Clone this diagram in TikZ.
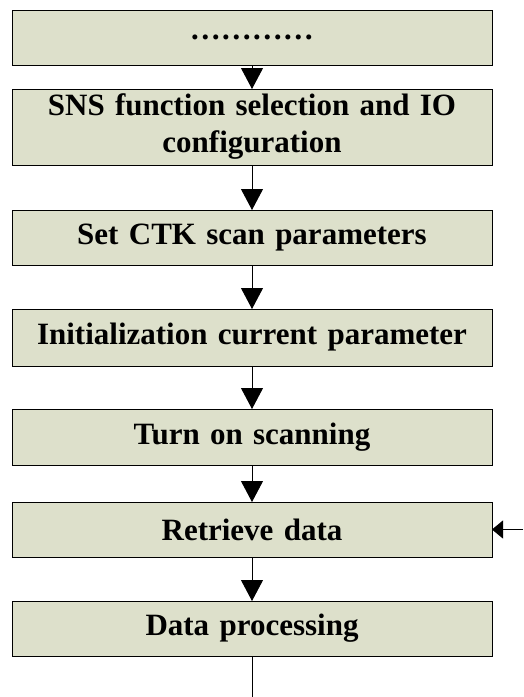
\documentclass[tikz,border=0pt]{standalone}
\usepackage{fontspec}
\setmainfont{Liberation Serif}
\usepackage{tikz}
\usetikzlibrary{positioning,arrows.meta}

\definecolor{boxfill}{RGB}{221,224,203}

\begin{document}
\begin{tikzpicture}[
    font=\fontsize{31}{37}\selectfont\bfseries,
    stage/.style={draw=black, fill=boxfill, line width=1pt, outer sep=0pt,
                  minimum width=480pt, minimum height=55pt, inner sep=2pt,
                  align=center, text width=470pt},
    flow/.style={-{Triangle[width=22pt,length=21pt]}, line width=0.9pt},
    feed/.style={-{Triangle[width=18pt,length=11pt]}, line width=0.9pt},
  ]
  \useasboundingbox (0,0) rectangle (523pt,-697pt);

  % --- main column ---
  \node[stage] (dots) at (252pt,-37.5pt) {…………};
  \node[stage, minimum height=76pt, below=24pt of dots] (sns)
    {SNS function selection and IO\\configuration};
  \node[stage, below=45pt of sns] (ctk) {Set CTK scan parameters};
  \node[stage, minimum height=57pt, below=44pt of ctk] (init)
    {Initialization current parameter};
  \node[stage, minimum height=56pt, below=43pt of init] (scan) {Turn on scanning};
  \node[stage, below=37pt of scan] (fetch) {Retrieve data};
  \node[stage, below=44pt of fetch] (proc) {Data processing};

  \draw[flow] (dots) -- (sns);
  \draw[flow] (sns) -- (ctk);
  \draw[flow] (ctk) -- (init);
  \draw[flow] (init) -- (scan);
  \draw[flow] (scan) -- (fetch);
  \draw[flow] (fetch) -- (proc);

  % --- loose ends ---
  \coordinate (back) at (523pt,-529.5pt);
  \coordinate (out) at (252pt,-697pt);
  \draw[feed] (back) -- (fetch.east);
  \draw[line width=0.9pt] (proc.south) -- (out);
\end{tikzpicture}
\end{document}
